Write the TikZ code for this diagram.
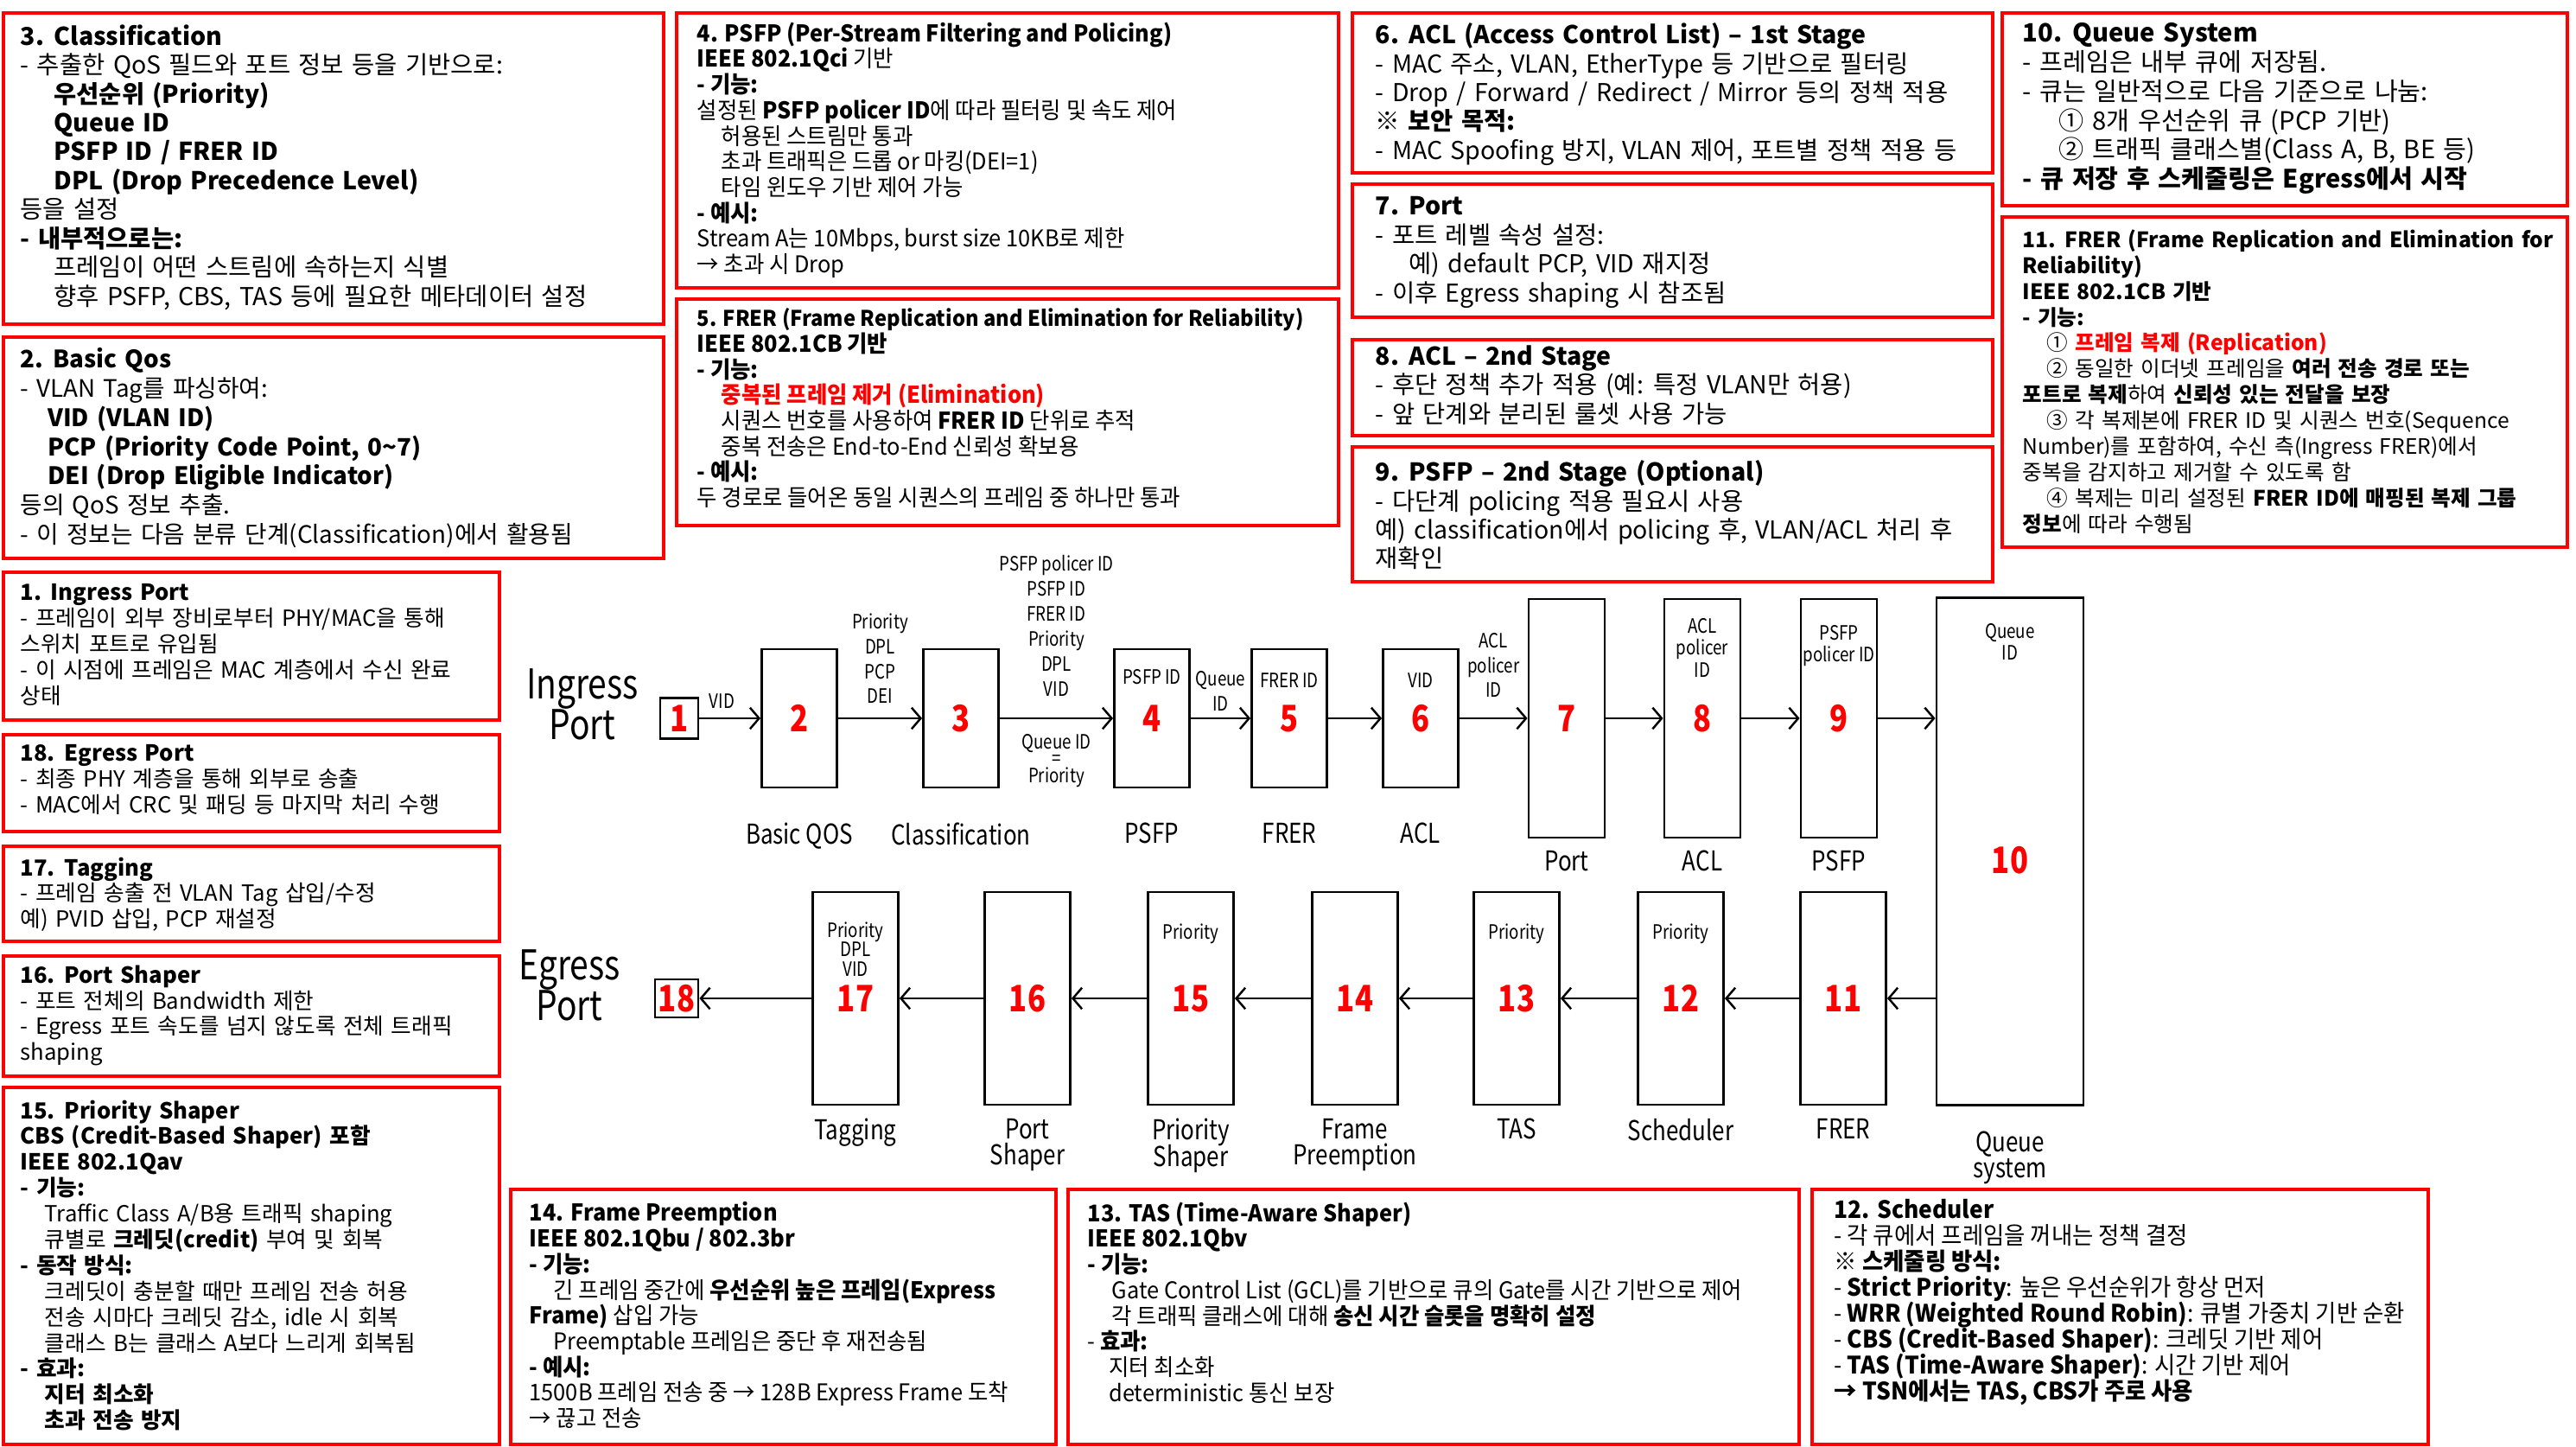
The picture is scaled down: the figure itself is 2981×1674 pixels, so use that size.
\documentclass[tikz,border=0pt]{standalone}
\usepackage{fontspec}
\setmainfont{Noto Sans CJK KR}
\newfontfamily\narrowfont{Noto Sans CJK KR}[FakeStretch=0.82]
\newfontfamily\condfont{Noto Sans CJK KR}[FakeStretch=0.95]
\usetikzlibrary{arrows.meta,positioning}
\lineskiplimit=-20pt
\newcommand\widespace{\spaceskip=.33em plus .1em minus .05em\relax}

\tikzset{
  redbox/.style={draw=red, line width=0.9pt},
  boxtext/.style={anchor=north west, align=left, inner sep=0pt,
    font=\fontsize{8.1}{9.5}\selectfont\widespace},
  gulimtext/.style={boxtext, font=\fontsize{7.3}{8.5}\selectfont\widespace},
  narrowtext/.style={boxtext, font=\condfont\fontsize{7.6}{8.45}\selectfont},
  stage/.style={draw, line width=0.8pt, inner sep=0pt, text=red,
    font=\narrowfont\bfseries\fontsize{12}{14}\selectfont},
  midstage/.style={stage, minimum width=0.87cm, minimum height=1.6cm},
  longstage/.style={stage, minimum width=0.88cm, minimum height=2.76cm},
  lowstage/.style={stage, minimum width=0.99cm, minimum height=2.46cm},
  inlbl/.style={align=center, inner sep=0pt, font=\narrowfont\fontsize{6.5}{7.3}\selectfont},
  edgelbl/.style={align=center, inner sep=0pt, font=\narrowfont\fontsize{6.5}{8.2}\selectfont},
  steplbl/.style={align=center, inner sep=0pt, font=\narrowfont\fontsize{9}{8.6}\selectfont},
  portlbl/.style={align=center, inner sep=0pt, font=\narrowfont\fontsize{13.5}{13.4}\selectfont},
  flow/.style={->, line width=0.7pt},
}

\begin{document}
\begin{tikzpicture}[x=0.01cm, y=-0.01cm, >={Straight Barb[length=3pt,width=7pt]}]

	% page frame
	\path[fill=white, use as bounding box] (0,0) rectangle (2981,1674);

	% Description boxes, top row
	\draw[redbox] (4,15) rectangle (768,375);
	\node[boxtext] (t3) at (23,28) {\textbf{3. Classification}\\
		- 추출한 QoS 필드와 포트 정보 등을 기반으로:\\
		\hspace*{11pt}\textbf{우선순위 (Priority)}\\
		\hspace*{11pt}\textbf{Queue ID}\\
		\hspace*{11pt}\textbf{PSFP ID / FRER ID}\\
		\hspace*{11pt}\textbf{DPL (Drop Precedence Level)}\\
		등을 설정\\
		\textbf{- 내부적으로는:}\\
		\hspace*{11pt}프레임이 어떤 스트림에 속하는지 식별\\
		\hspace*{11pt}향후 PSFP, CBS, TAS 등에 필요한 메타데이터 설정};

	\draw[redbox] (783,15) rectangle (1549,333);
	\node[narrowtext] (t4) at (806,25) {\textbf{4. PSFP (Per-Stream Filtering and Policing)}\\
		\textbf{IEEE 802.1Qci} 기반\\
		\textbf{- 기능:}\\
		설정된 \textbf{PSFP policer ID}에 따라 필터링 및 속도 제어\\
		\hspace*{8pt}허용된 스트림만 통과\\
		\hspace*{8pt}초과 트래픽은 드롭 or 마킹(DEI=1)\\
		\hspace*{8pt}타임 윈도우 기반 제어 가능\\
		\textbf{- 예시:}\\
		Stream A는 10Mbps, burst size 10KB로 제한\\
		→ 초과 시 Drop};

	\draw[redbox] (783,346) rectangle (1549,608);
	\node[narrowtext] (t5) at (806,356) {{\fontsize{7.1}{8.45}\selectfont\textbf{5. FRER (Frame Replication and Elimination for Reliability)}}\\
		\textbf{IEEE 802.1CB 기반}\\
		\textbf{- 기능:}\\
		\hspace*{8pt}\textcolor{red}{\textbf{중복된 프레임 제거 (Elimination)}}\\
		\hspace*{8pt}시퀀스 번호를 사용하여 \textbf{FRER ID} 단위로 추적\\
		\hspace*{8pt}중복 전송은 End-to-End 신뢰성 확보용\\
		\textbf{- 예시:}\\
		두 경로로 들어온 동일 시퀀스의 프레임 중 하나만 통과};

	\draw[redbox] (1565,15) rectangle (2306,200);
	\node[boxtext] (t6) at (1591,26) {\textbf{6. ACL (Access Control List) – 1st Stage}\\
		- MAC 주소, VLAN, EtherType 등 기반으로 필터링\\
		- Drop / Forward / Redirect / Mirror 등의 정책 적용\\
		\textbf{※ 보안 목적:}\\
		- MAC Spoofing 방지, VLAN 제어, 포트별 정책 적용 등};

	\draw[redbox] (1565,213) rectangle (2306,367);
	\node[boxtext] (t7) at (1591,227) {\textbf{7. Port}\\
		- 포트 레벨 속성 설정:\\
		\hspace*{11pt}예) default PCP, VID 재지정\\
		- 이후 Egress shaping 시 참조됨};

	\draw[redbox] (1565,393) rectangle (2306,504);
	\node[boxtext] (t8) at (1591,399) {\textbf{8. ACL – 2nd Stage}\\
		- 후단 정책 추가 적용 (예: 특정 VLAN만 허용)\\
		- 앞 단계와 분리된 룰셋 사용 가능};

	\draw[redbox] (1565,517) rectangle (2306,673);
	\node[boxtext] (t9) at (1591,532) {\textbf{9. PSFP – 2nd Stage (Optional)}\\
		- 다단계 policing 적용 필요시 사용\\
		예) classification에서 policing 후, VLAN/ACL 처리 후\\
		재확인};

	\draw[redbox] (2317,15) rectangle (2971,238);
	\node[boxtext, font=\fontsize{8.3}{9.6}\selectfont\widespace] (t10) at (2340,26) {\textbf{10. Queue System}\\
		- 프레임은 내부 큐에 저장됨.\\
		- 큐는 일반적으로 다음 기준으로 나눔:\\
		\hspace*{12pt}① 8개 우선순위 큐 (PCP 기반)\\
		\hspace*{12pt}② 트래픽 클래스별(Class A, B, BE 등)\\
		\textbf{- 큐 저장 후 스케줄링은 Egress에서 시작}};

	\draw[redbox] (2317,251) rectangle (2971,633);
	\node[gulimtext, font=\fontsize{7}{8.5}\selectfont\widespace] (t11) at (2340,265) {\textbf{11. FRER (Frame Replication and Elimination for}\\
		\textbf{Reliability)}\\
		\textbf{IEEE 802.1CB 기반}\\
		\textbf{- 기능:}\\
		\hspace*{8pt}① \textcolor{red}{\textbf{프레임 복제 (Replication)}}\\
		\hspace*{8pt}② 동일한 이더넷 프레임을 \textbf{여러 전송 경로 또는}\\
		\textbf{포트로 복제}하여 \textbf{신뢰성 있는 전달을 보장}\\
		\hspace*{8pt}③ 각 복제본에 FRER ID 및 시퀀스 번호(Sequence\\
		Number)를 포함하여, 수신 측(Ingress FRER)에서\\
		중복을 감지하고 제거할 수 있도록 함\\
		\hspace*{8pt}④ 복제는 미리 설정된 \textbf{FRER ID에 매핑된 복제 그룹}\\
		\textbf{정보}에 따라 수행됨};

	% Description boxes, left column
	\draw[redbox] (4,390) rectangle (768,646);
	\node[boxtext, font=\fontsize{7.9}{9.6}\selectfont\widespace] (t2) at (23,402) {\textbf{2. Basic Qos}\\
		- VLAN Tag를 파싱하여:\\
		\hspace*{9pt}\textbf{VID (VLAN ID)}\\
		\hspace*{9pt}\textbf{PCP (Priority Code Point, 0\textasciitilde7)}\\
		\hspace*{9pt}\textbf{DEI (Drop Eligible Indicator)}\\
		등의 QoS 정보 추출.\\
		- 이 정보는 다음 분류 단계(Classification)에서 활용됨};

	\draw[redbox] (4,662) rectangle (578,833);
	\node[gulimtext] (t1) at (23,675) {\textbf{1. Ingress Port}\\
		- 프레임이 외부 장비로부터 PHY/MAC을 통해\\
		스위치 포트로 유입됨\\
		- 이 시점에 프레임은 MAC 계층에서 수신 완료\\
		상태};

	\draw[redbox] (4,850) rectangle (578,962);
	\node[gulimtext] (t18) at (23,861) {\textbf{18. Egress Port}\\
		- 최종 PHY 계층을 통해 외부로 송출\\
		- MAC에서 CRC 및 패딩 등 마지막 처리 수행};

	\draw[redbox] (4,979) rectangle (578,1089);
	\node[gulimtext] (t17) at (23,991) {\textbf{17. Tagging}\\
		- 프레임 송출 전 VLAN Tag 삽입/수정\\
		예) PVID 삽입, PCP 재설정};

	\draw[redbox] (4,1106) rectangle (578,1245);
	\node[gulimtext] (t16) at (23,1116) {\textbf{16. Port Shaper}\\
		- 포트 전체의 Bandwidth 제한\\
		- Egress 포트 속도를 넘지 않도록 전체 트래픽\\
		shaping};

	\draw[redbox] (4,1258) rectangle (578,1671);
	\node[gulimtext] (t15) at (23,1272) {\textbf{15. Priority Shaper}\\
		\textbf{CBS (Credit-Based Shaper) 포함}\\
		\textbf{IEEE 802.1Qav}\\
		\textbf{- 기능:}\\
		\hspace*{8pt}Traffic Class A/B용 트래픽 shaping\\
		\hspace*{8pt}큐별로 \textbf{크레딧(credit)} 부여 및 회복\\
		\textbf{- 동작 방식:}\\
		\hspace*{8pt}크레딧이 충분할 때만 프레임 전송 허용\\
		\hspace*{8pt}전송 시마다 크레딧 감소, idle 시 회복\\
		\hspace*{8pt}클래스 B는 클래스 A보다 느리게 회복됨\\
		\textbf{- 효과:}\\
		\hspace*{8pt}\textbf{지터 최소화}\\
		\hspace*{8pt}\textbf{초과 전송 방지}};

	% Description boxes, bottom row
	\draw[redbox] (591,1376) rectangle (1222,1671);
	\node[narrowtext] (t14) at (612,1390) {\textbf{14. Frame Preemption}\\
		\textbf{IEEE 802.1Qbu / 802.3br}\\
		\textbf{- 기능:}\\
		\hspace*{8pt}긴 프레임 중간에 \textbf{우선순위 높은 프레임(Express}\\
		\textbf{Frame)} 삽입 가능\\
		\hspace*{8pt}Preemptable 프레임은 중단 후 재전송됨\\
		\textbf{- 예시:}\\
		1500B 프레임 전송 중 → 128B Express Frame 도착\\
		→ 끊고 전송};

	\draw[redbox] (1236,1376) rectangle (2082,1671);
	\node[narrowtext] (t13) at (1258,1390) {\textbf{13. TAS (Time-Aware Shaper)}\\
		\textbf{IEEE 802.1Qbv}\\
		\textbf{- 기능:}\\
		\hspace*{8pt}Gate Control List (GCL)를 기반으로 큐의 Gate를 시간 기반으로 제어\\
		\hspace*{8pt}각 트래픽 클래스에 대해 \textbf{송신 시간 슬롯을 명확히 설정}\\
		- \textbf{효과:}\\
		\hspace*{7pt}지터 최소화\\
		\hspace*{7pt}deterministic 통신 보장};

	\draw[redbox] (2097,1376) rectangle (2810,1671);
	\node[narrowtext, font=\condfont\fontsize{7.9}{8.5}\selectfont] (t12) at (2122,1387) {\textbf{12. Scheduler}\\
		- 각 큐에서 프레임을 꺼내는 정책 결정\\
		\textbf{※ 스케줄링 방식:}\\
		- \textbf{Strict Priority}: 높은 우선순위가 항상 먼저\\
		- \textbf{WRR (Weighted Round Robin)}: 큐별 가중치 기반 순환\\
		- \textbf{CBS (Credit-Based Shaper)}: 크레딧 기반 제어\\
		- \textbf{TAS (Time-Aware Shaper)}: 시간 기반 제어\\
		\textbf{→ TSN에서는 TAS, CBS가 주로 사용}};

	% Ingress pipeline
	\node[portlbl] (inport) at (674,815) {Ingress\\Port};
	\node[stage, minimum width=0.44cm, minimum height=0.47cm] (s1) at (786,831) {1};
	\node[midstage] (s2) at (925,831) {2};
	\node[midstage] (s3) at (1112,831) {3};
	\node[midstage] (s4) at (1333,831) {4};
	\node[midstage] (s5) at (1492,831) {5};
	\node[midstage] (s6) at (1644,831) {6};
	\node[longstage] (s7) at (1813,831) {7};
	\node[longstage] (s8) at (1970,831) {8};
	\node[longstage] (s9) at (2128,831) {9};
	\node[stage, minimum width=1.7cm, minimum height=5.86cm] (s10) at (2326,985) {};
	\node[text=red, font=\narrowfont\bfseries\fontsize{12}{14}\selectfont] (q10) at (2326,995) {10};

	% Egress pipeline
	\node[lowstage] (s11) at (2133,1155) {11};
	\node[lowstage] (s12) at (1945,1155) {12};
	\node[lowstage] (s13) at (1755,1155) {13};
	\node[lowstage] (s14) at (1568,1155) {14};
	\node[lowstage] (s15) at (1378,1155) {15};
	\node[lowstage] (s16) at (1189,1155) {16};
	\node[lowstage] (s17) at (990,1155) {17};
	\node[stage, minimum width=0.5cm, minimum height=0.44cm] (s18) at (783,1155) {18};
	\node[portlbl] (egport) at (659,1140) {Egress\\Port};

	% fields carried inside the stages
	\node[inlbl, below=6.8pt of s4.north] (f4) {PSFP ID};
	\node[inlbl, below=8pt of s5.north] (f5) {FRER ID};
	\node[inlbl, below=8pt of s6.north] (f6) {VID};
	\node[inlbl, below=6.5pt of s8.north] (f8) {ACL\\policer\\ID};
	\node[inlbl, below=8.8pt of s9.north] (f9) {PSFP\\policer ID};
	\node[inlbl, below=8.5pt of s10.north] (f10) {Queue\\ID};
	\node[inlbl, below=10.8pt of s12.north] (f12) {Priority};
	\node[inlbl, below=10.8pt of s13.north] (f13) {Priority};
	\node[inlbl, below=10.8pt of s15.north] (f15) {Priority};
	\node[inlbl, below=10.2pt of s17.north, font=\narrowfont\fontsize{6.5}{6.3}\selectfont] (f17) {Priority\\DPL\\VID};

	% stage names
	\node[steplbl, below=11pt of s2.south] (n2) {Basic QOS};
	\node[steplbl, below=11pt of s3.south] (n3) {Classification};
	\node[steplbl, below=11pt of s4.south] (n4) {PSFP};
	\node[steplbl, below=11pt of s5.south] (n5) {FRER};
	\node[steplbl, below=11pt of s6.south] (n6) {ACL};
	\node[steplbl, below=3.7pt of s7.south] (n7) {Port};
	\node[steplbl, below=3.7pt of s8.south] (n8) {ACL};
	\node[steplbl, below=3.7pt of s9.south] (n9) {PSFP};
	\node[steplbl, below=8pt of s10.south] (n10) {Queue\\system};
	\node[steplbl, below=4pt of s11.south] (n11) {FRER};
	\node[steplbl, below=4pt of s12.south] (n12) {Scheduler};
	\node[steplbl, below=4pt of s13.south] (n13) {TAS};
	\node[steplbl, below=4pt of s14.south] (n14) {Frame\\Preemption};
	\node[steplbl, below=4pt of s15.south] (n15) {Priority\\Shaper};
	\node[steplbl, below=4pt of s16.south] (n16) {Port\\Shaper};
	\node[steplbl, below=4pt of s17.south] (n17) {Tagging};

	% frame path through the switch
	\draw[flow] (s1) -- (s2) node[pos=0.37, above=3pt, edgelbl] {VID};
	\draw[flow] (s2) -- (s3) node[midway, above=4.5pt, edgelbl] {Priority\\DPL\\PCP\\DEI};
	\draw[flow] (s3) -- (s4)
		node[midway, above=7pt, edgelbl] {PSFP policer ID\\PSFP ID\\FRER ID\\Priority\\DPL\\VID}
		node[midway, below=4.8pt, edgelbl, font=\narrowfont\fontsize{6.5}{5.6}\selectfont] {Queue ID\\=\\Priority};
	\draw[flow] (s4) -- (s5) node[midway, above=2pt, edgelbl] {Queue\\ID};
	\draw[flow] (s5) -- (s6);
	\draw[flow] (s6) -- (s7) node[midway, above=6.5pt, edgelbl] {ACL\\policer\\ID};
	\draw[flow] (s7) -- (s8);
	\draw[flow] (s8) -- (s9);
	\draw[flow] (s9.east) -- (s9.east -| s10.west);
	\draw[flow] (s11.east -| s10.west) -- (s11.east);
	\draw[flow] (s11) -- (s12);
	\draw[flow] (s12) -- (s13);
	\draw[flow] (s13) -- (s14);
	\draw[flow] (s14) -- (s15);
	\draw[flow] (s15) -- (s16);
	\draw[flow] (s16) -- (s17);
	\draw[flow] (s17) -- (s18);

\end{tikzpicture}
\end{document}
